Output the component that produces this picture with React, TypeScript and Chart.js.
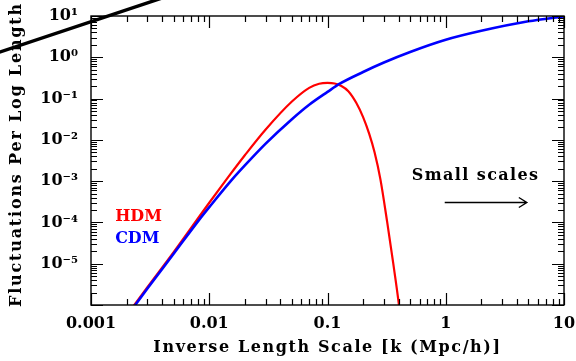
import React, { useEffect, useRef } from 'react';
import { Chart, registerables } from 'chart.js';
Chart.register(...registerables);

// ---- data ----
const kCDM = [0.002, 0.003, 0.005, 0.0083, 0.01, 0.0155, 0.02, 0.03, 0.05, 0.07, 0.1, 0.127, 0.2, 0.3, 0.5, 1, 2, 5, 10];
const deltaCDM = [5.2e-7, 2.5e-6, 1.74e-5, 1.2e-4, 2.34e-4, 1.07e-3, 2.4e-3, 8.1e-3, 0.0316, 0.0708, 0.145, 0.229, 0.44, 0.746, 1.34, 2.65, 4.37, 7.43, 9.8];

const kHDM = [0.002, 0.003, 0.005, 0.01, 0.0144, 0.02, 0.03, 0.05, 0.07, 0.085, 0.1, 0.115, 0.13, 0.15, 0.175, 0.2, 0.225, 0.25, 0.28, 0.32, 0.36, 0.4, 0.42];
const deltaHDM = [5.6e-7, 2.7e-6, 1.9e-5, 3.0e-4, 1.23e-3, 4.23e-3, 0.0178, 0.0847, 0.182, 0.229, 0.24, 0.232, 0.204, 0.151, 0.079, 0.0355, 0.0141, 5.0e-3, 1.12e-3, 1.0e-4, 1.0e-5, 1.12e-6, 3.2e-7];

const kSlash = [1.55e-4, 4.66e-3];
const ySlash = [1.23, 31.6];

const xDecades = [0.001, 0.01, 0.1, 1, 10];
const xTickLabels = ['0.001', '0.01', '0.1', '1', '10'];
const yDecades = [1e-6, 1e-5, 1e-4, 1e-3, 1e-2, 1e-1, 1, 10];
const yTickLabels = ['', '10⁻⁵', '10⁻⁴', '10⁻³', '10⁻²', '10⁻¹', '10⁰', '10¹'];

const xTitle = 'Inverse Length Scale [k (Mpc/h)]';
const yTitle = 'Fluctuations Per Log Length';
const seriesNames = ['HDM', 'CDM'];
const noteText = 'Small scales';

// annotation anchors (data coordinates)
const legendX = 0.0016;
const legendY = [1.36e-4, 3.98e-5];
const noteX = 0.516;
const noteY = 1.34e-3;
const arrowX = [0.98, 4.85];
const arrowY = 3.16e-4;

const FONT = 'DejaVu Serif';
const RED = '#ff0000';
const BLUE = '#0000ff';

function buildTicks(decades: number[]) {
  const out: { value: number; major: boolean }[] = [];
  decades.forEach((d, i) => {
    out.push({ value: d, major: true });
    if (i < decades.length - 1) {
      for (let m = 2; m <= 9; m++) out.push({ value: d * m, major: false });
    }
  });
  return out;
}

function labelFor(value: number, decades: number[], labels: string[]) {
  for (let i = 0; i < decades.length; i++) {
    if (Math.abs(Math.log10(value) - Math.log10(decades[i])) < 1e-6) return labels[i];
  }
  return '';
}

const frameTicksPlugin = {
  id: 'frameTicks',
  afterDatasetsDraw(chart: any) {
    const { ctx, chartArea: a, scales } = chart;
    const x = scales.x;
    const y = scales.y;
    ctx.save();
    ctx.strokeStyle = '#000';
    ctx.lineWidth = 1.4;
    ctx.strokeRect(a.left, a.top, a.right - a.left, a.bottom - a.top);
    ctx.beginPath();
    x.ticks.forEach((t: any) => {
      const px = Math.round(x.getPixelForValue(t.value)) + 0.5;
      const len = t.major ? 12 : 6;
      ctx.moveTo(px, a.bottom);
      ctx.lineTo(px, a.bottom - len);
      ctx.moveTo(px, a.top);
      ctx.lineTo(px, a.top + len);
    });
    y.ticks.forEach((t: any) => {
      const py = Math.round(y.getPixelForValue(t.value)) + 0.5;
      const len = t.major ? 12 : 6;
      ctx.moveTo(a.left, py);
      ctx.lineTo(a.left + len, py);
      ctx.moveTo(a.right, py);
      ctx.lineTo(a.right - len, py);
    });
    ctx.lineWidth = 1.2;
    ctx.stroke();
    ctx.restore();
  },
};

const annotationPlugin = {
  id: 'notes',
  afterDraw(chart: any) {
    const { ctx, scales, chartArea: a } = chart;
    const x = scales.x;
    const y = scales.y;
    ctx.save();
    ctx.textBaseline = 'middle';
    // axis titles
    ctx.fillStyle = '#000';
    ctx.font = `bold 16px "${FONT}"`;
    ctx.textAlign = 'center';
    (ctx as any).letterSpacing = '1.6px';
    ctx.fillText(xTitle, (a.left + a.right) / 2, a.bottom + 43);
    ctx.save();
    ctx.translate(17, (a.top + a.bottom) / 2 - 6);
    ctx.rotate(-Math.PI / 2);
    (ctx as any).letterSpacing = '1.8px';
    ctx.fillText(yTitle, 0, 0);
    ctx.restore();
    // legend labels
    ctx.textAlign = 'left';
    (ctx as any).letterSpacing = '0px';
    ctx.font = `bold 16px "${FONT}"`;
    ctx.fillStyle = RED;
    ctx.fillText(seriesNames[0], x.getPixelForValue(legendX), y.getPixelForValue(legendY[0]));
    ctx.fillStyle = BLUE;
    ctx.fillText(seriesNames[1], x.getPixelForValue(legendX), y.getPixelForValue(legendY[1]));
    // note + arrow
    ctx.fillStyle = '#000';
    (ctx as any).letterSpacing = '1.4px';
    ctx.fillText(noteText, x.getPixelForValue(noteX), y.getPixelForValue(noteY));
    (ctx as any).letterSpacing = '0px';
    const x0 = x.getPixelForValue(arrowX[0]);
    const x1 = x.getPixelForValue(arrowX[1]);
    const ay = Math.round(y.getPixelForValue(arrowY)) + 0.5;
    ctx.strokeStyle = '#000';
    ctx.lineWidth = 1.4;
    ctx.beginPath();
    ctx.moveTo(x0, ay);
    ctx.lineTo(x1, ay);
    ctx.moveTo(x1 - 8, ay - 5);
    ctx.lineTo(x1, ay);
    ctx.lineTo(x1 - 8, ay + 5);
    ctx.stroke();
    ctx.restore();
  },
};

function zeroPadding(scale: any) {
  scale.paddingLeft = 0;
  scale.paddingRight = 0;
  scale.paddingTop = 0;
  scale.paddingBottom = 0;
}

export default function App() {
  const ref = useRef<HTMLCanvasElement>(null);
  useEffect(() => {
    document.body.style.margin = '0';
    const tickFont = { family: FONT, size: 16, weight: 'bold' as const };
    const chart = new Chart(ref.current!, {
      type: 'line',
      data: {
        datasets: [
          {
            label: seriesNames[1],
            data: kCDM.map((k, i) => ({ x: k, y: deltaCDM[i] })),
            borderColor: BLUE,
            borderWidth: 2.6,
            pointRadius: 0,
            cubicInterpolationMode: 'monotone',
            order: 0,
          },
          {
            label: seriesNames[0],
            data: kHDM.map((k, i) => ({ x: k, y: deltaHDM[i] })),
            borderColor: RED,
            borderWidth: 2.2,
            pointRadius: 0,
            cubicInterpolationMode: 'monotone',
            order: 1,
          },
          {
            label: 'slash',
            data: kSlash.map((k, i) => ({ x: k, y: ySlash[i] })),
            borderColor: '#000',
            borderWidth: 3.4,
            pointRadius: 0,
            clip: false as any,
            order: 2,
          },
        ],
      },
      options: {
        responsive: false,
        animation: false,
        layout: { padding: { left: 0, top: 16, right: 12, bottom: 0 } },
        plugins: { legend: { display: false }, tooltip: { enabled: false } },
        scales: {
          x: {
            type: 'logarithmic',
            min: 0.001,
            max: 10,
            afterBuildTicks: (scale: any) => {
              scale.ticks = buildTicks(xDecades);
            },
            afterFit: (scale: any) => {
              scale.height = 56;
              zeroPadding(scale);
            },
            grid: { display: false, drawTicks: false },
            border: { display: false },
            ticks: {
              autoSkip: false,
              maxRotation: 0,
              minRotation: 0,
              padding: 9,
              color: '#000',
              font: tickFont,
              callback: (v: any) => labelFor(Number(v), xDecades, xTickLabels),
            },
            title: { display: false },
          },
          y: {
            type: 'logarithmic',
            min: 1e-6,
            max: 10,
            afterBuildTicks: (scale: any) => {
              scale.ticks = buildTicks(yDecades);
            },
            afterFit: (scale: any) => {
              scale.width = 91;
              zeroPadding(scale);
            },
            grid: { display: false, drawTicks: false },
            border: { display: false },
            ticks: {
              autoSkip: false,
              padding: 13,
              color: '#000',
              font: tickFont,
              callback: (v: any) => labelFor(Number(v), yDecades, yTickLabels),
            },
            title: { display: false },
          },
        },
      },
      plugins: [frameTicksPlugin, annotationPlugin],
    } as any);
    return () => chart.destroy();
  }, []);
  return (
    <div style={{ position: 'fixed', left: 0, top: 0, width: 576, height: 361, background: '#fff' }}>
      <canvas ref={ref} width={576} height={361} />
    </div>
  );
}
